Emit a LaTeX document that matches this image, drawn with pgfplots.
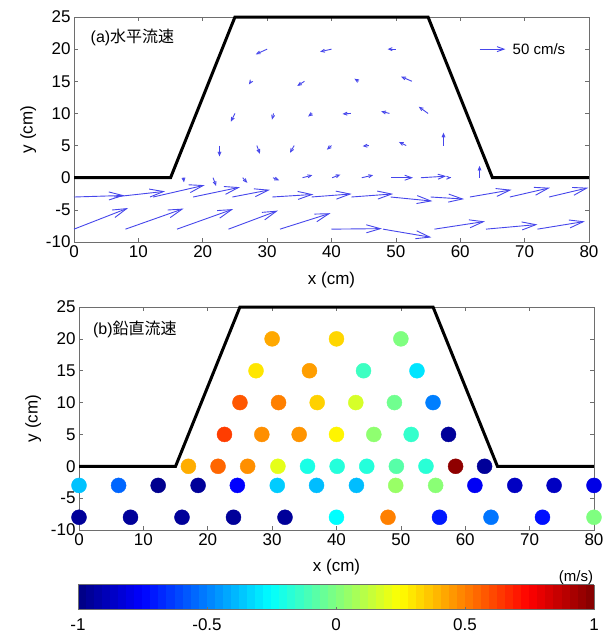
\documentclass[border=0pt]{standalone}
\usepackage{pgfplots}
\pgfplotsset{compat=1.18}
\usepackage{pgfplotstable}
\usetikzlibrary{arrows.meta}
\usepackage{fontspec}
\setmainfont{Liberation Sans}
\newfontfamily\cjk{Noto Sans CJK JP}
\definecolor{qblue}{RGB}{70,70,235}
\definecolor{framegray}{RGB}{110,110,110}

% large arrows (rows y=-8 and y=-3), cm/s
\pgfplotstableread{
x y u v
0 -8 105 41
8 -8 113 40
16 -8 109 39
24 -8 96 36
32 -8 98 31
40 -8 98 1
48 -8 94 -16
56 -8 98 15
64 -8 100 9
72 -8 92 15
0 -3 98 3
6.15 -3 100 11
12.3 -3 100 23
18.5 -3 91 19
24.6 -3 73 14
30.8 -3 80 5
36.9 -3 78 6
43.1 -3 81 6
49.2 -3 81 -8
55.4 -3 65 -4
61.5 -3 81 14
67.7 -3 78 18
73.8 -3 76 18
}\bigarrows

% medium arrows
\pgfplotstableread{
x y u v
49.3 0 42 0
53.9 0 49 3
}\medarrows

% small arrows
\pgfplotstableread{
x y u v
17 0 1 -9
21.6 0 6 -16
26.2 0 9 -10
30.9 0 12 -5
35.5 0 19 5
40.1 0 16 6
44.7 0 22 5
58.5 0 1 0
63 0 0 23
22.6 5 0 -21
28.4 5 6 -16
34.2 5 -8 -14
40 5 -9 -8
45.8 5 -12 -1
51.6 5 -14 7
57.4 5 0 25
25 10 -8 -16
31 10 -3 -12
37 10 -8 -6
43 10 -16 -1
49 10 -16 4
55 10 -18 13
27.5 15 -4 -6
35.8 15 -14 -9
44.2 15 -8 5
52.5 15 -21 9
30 20 -22 -10
40 20 -22 -5
50 20 -16 0
}\smallarrows

% reference arrow
\pgfplotstableread{
x y u v
63 20 50 0
}\refarrow

% vertical velocity (m/s)
\pgfplotstableread{
x y w
30 20 0.42
40 20 0.33
50 20 0.0
27.5 15 0.30
35.8 15 0.44
44.2 15 -0.13
52.5 15 -0.30
25 10 0.58
31 10 0.50
37 10 0.34
43 10 0.17
49 10 -0.03
55 10 -0.50
22.6 5 0.63
28.4 5 0.47
34.2 5 0.46
40 5 0.27
45.8 5 0.03
51.6 5 -0.15
57.4 5 -0.95
17 0 0.41
21.6 0 0.55
26.2 0 0.47
30.9 0 0.20
35.5 0 -0.20
40.1 0 -0.18
44.7 0 -0.18
49.3 0 -0.08
53.9 0 -0.17
58.5 0 0.97
63 0 -0.95
0 -3 -0.37
6.15 -3 -0.55
12.3 -3 -0.97
18.5 -3 -0.95
24.6 -3 -0.75
30.8 -3 -0.35
36.9 -3 -0.38
43.1 -3 -0.38
49.2 -3 0.05
55.4 -3 0.02
61.5 -3 -0.77
67.7 -3 -0.87
73.8 -3 -0.87
80 -3 -0.80
0 -8 -0.95
8 -8 -0.95
16 -8 -0.95
24 -8 -0.95
32 -8 -0.95
40 -8 -0.25
48 -8 0.50
56 -8 -0.70
64 -8 -0.52
72 -8 -0.72
80 -8 0.0
}\wdata

\pgfplotsset{
  myaxis/.style={
    scale only axis,
    width=515pt,
    xmin=0, xmax=80, ymin=-10, ymax=25,
    xtick={0,10,...,80}, ytick={-10,-5,...,25},
    tick align=inside,
    axis line style={framegray, line width=0.6pt},
    tick style={framegray, line width=0.6pt},
    major tick length=4pt,
    ticklabel style={font=\fontsize{17}{19}\selectfont},
    /pgf/number format/assume math mode=true,
    label style={font=\fontsize{17}{19}\selectfont},
    xlabel={x (cm)}, ylabel={y (cm)},
    clip=false,
  },
}

\begin{document}
\begin{tikzpicture}
\useasboundingbox (0,0) rectangle (608pt,-640pt);

% ---------- (a) horizontal velocity ----------
\begin{axis}[myaxis,
  at={(74pt,-242pt)}, anchor=south west,
  height=225pt,
  xlabel style={at={(axis description cs:0.5,-0.17)}, anchor=center},
  ylabel style={at={(axis description cs:-0.089,0.5)}, anchor=center, rotate=0},
]
\addplot[black, line width=3pt] coordinates {(0,0) (15,0) (25,25) (55,25) (65,0) (80,0)};
\addplot[qblue, line width=0.9pt, -{Straight Barb[length=14pt,width=8pt]},
  quiver={u=\thisrow{u}, v=\thisrow{v}, scale arrows=0.08}] table[x=x,y=y] {\bigarrows};
\addplot[qblue, line width=0.9pt, -{Straight Barb[length=7pt,width=5pt]},
  quiver={u=\thisrow{u}, v=\thisrow{v}, scale arrows=0.08}] table[x=x,y=y] {\medarrows};
\addplot[qblue, line width=0.9pt, -{Straight Barb[length=7pt,width=5pt]},
  quiver={u=\thisrow{u}, v=\thisrow{v}, scale arrows=0.08}] table[x=x,y=y] {\refarrow};
\addplot[qblue, line width=0.9pt, -{Straight Barb[length=3.5pt,width=3pt]},
  quiver={u=\thisrow{u}, v=\thisrow{v}, scale arrows=0.08}] table[x=x,y=y] {\smallarrows};
\node[anchor=west, font=\fontsize{15}{17}\selectfont] at (axis cs:67.6,20) {50 cm/s};
\node[anchor=west, font=\fontsize{16}{18}\selectfont, inner sep=0pt] at (rel axis cs:0.032,0.907) {(a)\cjk 水平流速};
\end{axis}

% ---------- (b) vertical velocity ----------
\begin{axis}[myaxis,
  at={(79pt,-530pt)}, anchor=south west,
  height=223pt,
  xlabel style={at={(axis description cs:0.5,-0.166)}, anchor=center},
  ylabel style={at={(axis description cs:-0.089,0.5)}, anchor=center, rotate=0},
  colormap/jet,
  point meta min=-1, point meta max=1,
  colorbar horizontal,
  colorbar sampled,
  colorbar style={
    samples=65,
    at={(parent axis.south west)}, anchor=north west,
    xshift=-1pt, yshift=-46pt,
    scale only axis,
    width=516pt, height=25pt,
    xtick={-1,-0.5,0,0.5,1},
    tick align=inside,
    major tick length=3pt,
    xtick pos=bottom,
    axis line style={framegray, line width=0.6pt},
    tick style={framegray, line width=0.6pt},
    xticklabel style={font=\fontsize{17}{19}\selectfont, yshift=-6pt},
    /pgf/number format/assume math mode=true,
    xlabel={},
  },
]
\addplot[black, line width=3pt] coordinates {(0,0) (15,0) (25,25) (55,25) (65,0) (80,0)};
\addplot[scatter, only marks, mark=*, mark size=7.5pt, point meta=explicit,
  scatter/use mapped color={draw=mapped color, fill=mapped color}]
  table[x=x, y=y, meta=w] {\wdata};
\node[anchor=west, font=\fontsize{16}{18}\selectfont, inner sep=0pt] at (rel axis cs:0.027,0.901) {(b)\cjk 鉛直流速};
\end{axis}

\node[font=\fontsize{15}{17}\selectfont] at (576pt,-578pt) {(m/s)};
\end{tikzpicture}
\end{document}
